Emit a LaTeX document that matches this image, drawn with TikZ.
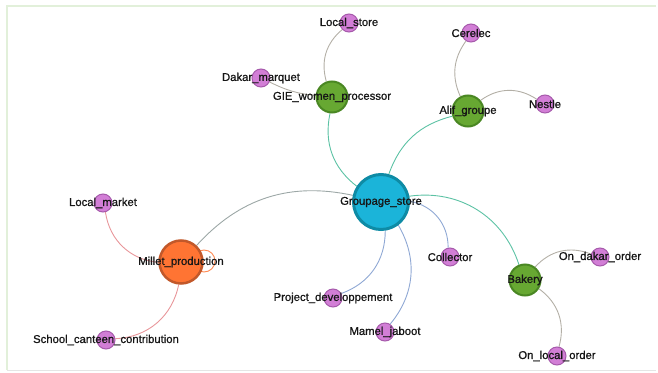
\documentclass[tikz,border=0pt]{standalone}
\usepackage{fontspec}
\setmainfont{Liberation Sans}
\newfontfamily\lblfont[FakeBold=0.9]{Liberation Sans}
\usetikzlibrary{backgrounds}
\definecolor{hubfill}{HTML}{1BB4D9}
\definecolor{hubdraw}{HTML}{0E8BA5}
\definecolor{orfill}{HTML}{FF7433}
\definecolor{ordraw}{HTML}{C2582A}
\definecolor{grfill}{HTML}{67A832}
\definecolor{grdraw}{HTML}{4A8723}
\definecolor{pufill}{HTML}{D27ED6}
\definecolor{pudraw}{HTML}{A65AAB}
\definecolor{eteal}{HTML}{5CC2A4}
\definecolor{egrey}{HTML}{B3AFA6}
\definecolor{eblue}{HTML}{8FA8D4}
\definecolor{epink}{HTML}{E8969A}
\definecolor{emix}{HTML}{9CA7A6}
\definecolor{frameg}{HTML}{E2F0DA}
\definecolor{txt}{HTML}{161616}
\tikzset{
  nlabel/.style={font=\lblfont\fontsize{11.3}{13}\selectfont, text=txt, inner sep=0pt},
  hub/.style={circle, fill=hubfill, draw=hubdraw, line width=3pt, minimum size=55pt, inner sep=0pt},
  orangenode/.style={circle, fill=orfill, draw=ordraw, line width=2.5pt, minimum size=43pt, inner sep=0pt},
  greennode/.style={circle, fill=grfill, draw=grdraw, line width=2pt, minimum size=31pt, inner sep=0pt},
  leafnode/.style={circle, fill=pufill, draw=pudraw, line width=1pt, minimum size=18pt, inner sep=0pt},
  edge/.style={line width=0.9pt},
}
\newcommand{\gnode}[4]{\node[#1] (#2) at (#3) {}; \node[nlabel] at (#2.center) {#4};}
\begin{document}
\begin{tikzpicture}[x=1pt,y=-1pt]
\useasboundingbox (0,0) rectangle (658,372);
% frame
\draw[frameg, line width=1.5pt] (7,370) -- (7,6) -- (656,6);
\draw[black!10, line width=1pt] (7,370) -- (656,370);
% nodes
\gnode{hub}{gs}{381,202}{Groupage\_store}
\gnode{orangenode}{mp}{181,262}{Millet\_production}
\gnode{greennode}{gie}{332,97}{GIE\_women\_processor}
\gnode{greennode}{alif}{468,111}{Alif\_groupe}
\gnode{greennode}{bak}{525,280}{Bakery}
\gnode{leafnode}{ls}{349,23}{Local\_store}
\gnode{leafnode}{cer}{471,33}{Cerelec}
\gnode{leafnode}{nes}{545,104}{Nestle}
\gnode{leafnode}{dm}{261,78}{Dakar\_marquet}
\gnode{leafnode}{lm}{103,203}{Local\_market}
\gnode{leafnode}{sc}{106,340}{School\_canteen\_contribution}
\gnode{leafnode}{pd}{333,298}{Project\_developpement}
\gnode{leafnode}{mj}{385,332}{Mamel\_jaboot}
\gnode{leafnode}{col}{450,257}{Collector}
\gnode{leafnode}{od}{600,257}{On\_dakar\_order}
\gnode{leafnode}{ol}{557,356}{On\_local\_order}
\coordinate (loopc) at (204,261);
\begin{scope}[on background layer]
  \draw[edge, orfill!85!white] (loopc) circle[radius=11pt];
  \draw[edge, emix] (gs) to[bend right=30] (mp);
  \draw[edge, eteal] (gs) to[bend left=32] (gie);
  \draw[edge, eteal] (gs) to[bend left=28] (alif);
  \draw[edge, eteal] (gs) to[bend left=40] (bak);
  \draw[edge, eblue] (gs) to[bend left=40] (col);
  \draw[edge, eblue] (gs) to[bend left=35] (pd);
  \draw[edge, eblue] (gs) to[bend left=35] (mj);
  \draw[edge, egrey] (gie) to[bend left=33] (ls);
  \draw[edge, egrey] (gie) to[bend left=10] (dm);
  \draw[edge, egrey] (alif) to[bend left=30] (cer);
  \draw[edge, egrey] (alif) to[bend left=35] (nes);
  \draw[edge, egrey] (bak) to[bend left=35] (od);
  \draw[edge, egrey] (bak) to[bend left=35] (ol);
  \draw[edge, epink] (mp) to[bend left=38] (lm);
  \draw[edge, epink] (mp) to[bend left=38] (sc);
\end{scope}
\end{tikzpicture}
\end{document}
